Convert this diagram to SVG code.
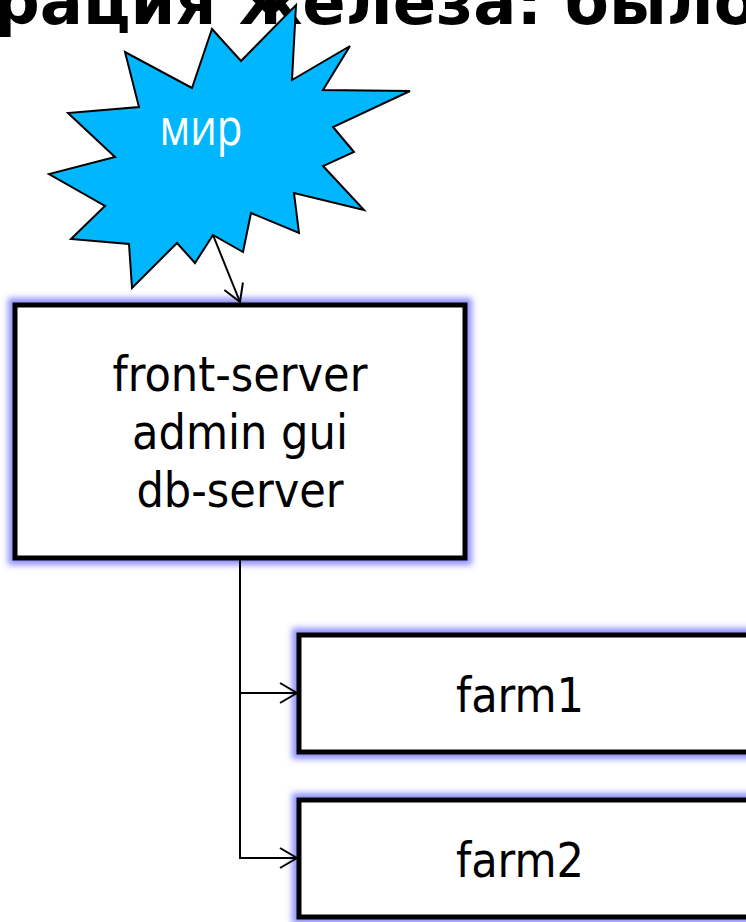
<svg xmlns="http://www.w3.org/2000/svg" width="746" height="922" viewBox="0 0 746 922">
<style>
.title{font-family:"DejaVu Sans","Liberation Sans",sans-serif;font-weight:bold;font-size:64px;fill:#000}
.lbl{font-family:"DejaVu Sans Condensed","DejaVu Sans","Liberation Sans",sans-serif;font-size:48px;fill:#000;text-anchor:middle}
.star-lbl{font-family:"Open Sans","Noto Sans",sans-serif;font-size:52px;fill:#fff;text-anchor:middle}
.box{fill:#fff;stroke:#000;stroke-width:5}
.glow{fill:none;stroke:#8f8fff;stroke-width:14}
.conn{fill:none;stroke:#000;stroke-width:2}
</style>
<defs>
<filter id="blur" x="-20%" y="-20%" width="140%" height="140%"><feGaussianBlur stdDeviation="3"/></filter>
<marker id="arr" markerUnits="userSpaceOnUse" viewBox="-19 -12 21 24" markerWidth="21" markerHeight="24" refX="0" refY="0" orient="auto">
<path d="M-17,-10 L0,0 L-17,10" fill="none" stroke="#000" stroke-width="2"/>
</marker>
</defs>
<rect width="746" height="922" fill="#fff"/>
<text class="title" x="-6" y="24">рация железа: было</text>
<g id="world">
<polygon points="296,5 292,80 350,46 323,90 410,91 333,127 354,152 323,166 364,210 294,193 299,233 251,213 243,252 213,235 195,263 177,243 132,288 129,244 71,239 105,206 49,174 115,157 68,113 139,107 125,52 192,88 212,29 241,61" fill="#00b7ff" stroke="#000" stroke-width="2" stroke-linejoin="miter"/>
<text class="star-lbl" x="201" y="145" textLength="83" lengthAdjust="spacingAndGlyphs">мир</text>
</g>
<g id="front">
<rect class="glow" x="15" y="305" width="450" height="253" filter="url(#blur)"/>
<rect class="box" x="15" y="305" width="450" height="253"/>
<text class="lbl" x="240" y="391">front-server</text>
<text class="lbl" x="240" y="449">admin gui</text>
<text class="lbl" x="240" y="507">db-server</text>
</g>
<g id="farm1">
<rect class="glow" x="299" y="635" width="470" height="117" filter="url(#blur)"/>
<rect class="box" x="299" y="635" width="470" height="117"/>
<text class="lbl" x="520" y="712">farm1</text>
</g>
<g id="farm2">
<rect class="glow" x="299" y="800" width="470" height="117" filter="url(#blur)"/>
<rect class="box" x="299" y="800" width="470" height="117"/>
<text class="lbl" x="520" y="877">farm2</text>
</g>
<g id="connectors">
<line class="conn" x1="213" y1="235" x2="240" y2="302" marker-end="url(#arr)"/>
<polyline class="conn" points="240,560 240,693 297,693" marker-end="url(#arr)"/>
<polyline class="conn" points="240,693 240,858 297,858" marker-end="url(#arr)"/>
</g>
</svg>
